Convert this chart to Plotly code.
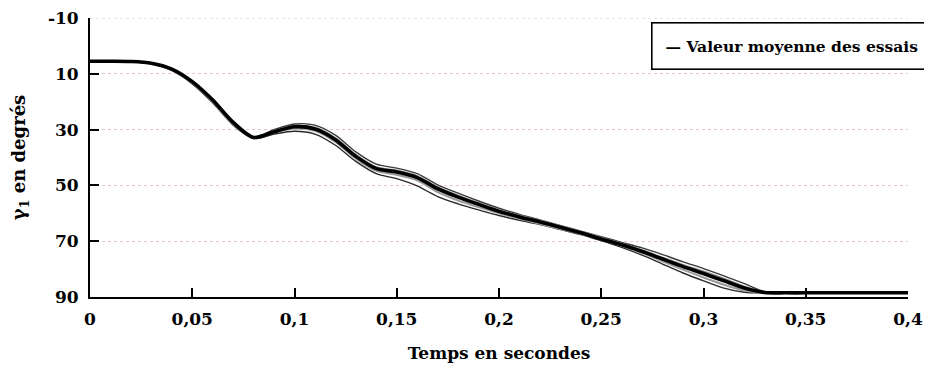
import plotly.graph_objects as go

# Time (s)
temps = [0.00, 0.01, 0.02, 0.03, 0.04, 0.05, 0.06, 0.07, 0.08, 0.09,
         0.10, 0.11, 0.12, 0.13, 0.14, 0.15, 0.16, 0.17, 0.18, 0.19,
         0.20, 0.21, 0.22, 0.23, 0.24, 0.25, 0.26, 0.27, 0.28, 0.29,
         0.30, 0.31, 0.32, 0.33, 0.34, 0.35, 0.36, 0.37, 0.38, 0.39, 0.40]

# Mean value of trials (degrees)
moyenne = [5.5, 5.5, 5.6, 6.2, 8.3, 12.8, 19.4, 27.4, 32.8, 30.8,
           29.0, 29.8, 33.6, 39.6, 44.0, 45.2, 47.2, 51.2, 54.2, 56.8,
           59.3, 61.3, 63.1, 65.0, 67.0, 69.2, 71.3, 73.7, 76.4, 79.1,
           81.6, 84.2, 86.8, 88.4, 88.5, 88.5, 88.5, 88.5, 88.5, 88.5, 88.5]

# Individual trials (degrees)
essai_1 = [5.5, 5.5, 5.6, 6.2, 8.2, 12.6, 19.2, 27.0, 32.6, 30.0,
           28.0, 28.4, 32.0, 38.0, 42.4, 43.8, 45.8, 49.8, 52.8, 55.6,
           58.2, 60.4, 62.4, 64.4, 66.4, 68.4, 70.4, 72.4, 74.8, 77.4,
           79.8, 82.4, 85.2, 88.1, 88.5, 88.5, 88.5, 88.5, 88.5, 88.5, 88.5]
essai_2 = [5.5, 5.5, 5.7, 6.4, 8.8, 13.6, 20.4, 28.4, 33.2, 31.6,
           30.6, 31.6, 35.6, 41.4, 45.8, 47.6, 50.2, 54.0, 56.6, 58.8,
           60.8, 62.5, 64.0, 65.8, 67.6, 69.8, 72.2, 75.0, 78.2, 81.4,
           84.2, 86.8, 88.3, 88.5, 88.5, 88.5, 88.5, 88.5, 88.5, 88.5, 88.5]
essai_3 = [5.5, 5.5, 5.6, 6.3, 8.6, 13.3, 20.0, 28.0, 33.0, 31.0,
           29.6, 30.4, 34.4, 40.4, 44.8, 46.2, 48.2, 52.4, 55.4, 57.8,
           60.0, 62.0, 63.8, 65.6, 67.4, 69.4, 71.6, 74.2, 77.2, 80.2,
           83.0, 85.6, 87.7, 88.5, 88.5, 88.5, 88.5, 88.5, 88.5, 88.5, 88.5]
essai_4 = [5.5, 5.5, 5.6, 6.1, 8.1, 12.5, 19.0, 27.0, 32.6, 30.4,
           28.6, 29.2, 33.0, 39.0, 43.4, 44.6, 46.6, 50.6, 53.6, 56.2,
           58.8, 60.8, 62.6, 64.4, 66.4, 68.6, 70.8, 73.2, 75.8, 78.4,
           80.8, 83.4, 86.2, 88.4, 88.5, 88.5, 88.5, 88.5, 88.5, 88.5, 88.5]

x_tick_vals = [0, 0.05, 0.1, 0.15, 0.2, 0.25, 0.3, 0.35, 0.4]
x_tick_text = ["0", "0,05", "0,1", "0,15", "0,2", "0,25", "0,3", "0,35", "0,4"]
y_tick_vals = [-10, 10, 30, 50, 70, 90]
y_tick_text = ["-10", "10", "30", "50", "70", "90"]

FONT = "DejaVu Serif"
GRID = "#e8c6c8"

fig = go.Figure()

trials = [(essai_1, "#3a3a3a", 1.4), (essai_2, "#2a2a2a", 1.4),
          (essai_3, "#9a9a9a", 2.0), (essai_4, "#8a8a8a", 1.6)]
for i, (vals, col, w) in enumerate(trials):
    fig.add_trace(go.Scatter(
        x=temps, y=vals, mode="lines", name=f"Essai {i+1}",
        line=dict(color=col, width=w, shape="spline", smoothing=0.8),
        showlegend=False, hoverinfo="skip"))

fig.add_trace(go.Scatter(
    x=temps, y=moyenne, mode="lines", name="Valeur moyenne des essais",
    line=dict(color="black", width=3.6, shape="spline", smoothing=0.8),
    showlegend=False))

# top dotted grid line at -10
fig.add_shape(type="line", xref="paper", yref="y", x0=0, x1=1, y0=-10, y1=-10,
              line=dict(color=GRID, width=1, dash="dot"), layer="below")

fig.add_annotation(
    xref="paper", yref="paper", x=1.031, y=0.986, xanchor="right", yanchor="top",
    text="— Valeur moyenne des essais", showarrow=False,
    font=dict(family=FONT, size=15.5, color="black", weight="bold"),
    bordercolor="black", borderwidth=1.6, borderpad=13, bgcolor="white")

fig.update_layout(
    width=932, height=368,
    margin=dict(l=82, r=32, t=10, b=79),
    paper_bgcolor="white", plot_bgcolor="white",
    font=dict(family=FONT, color="black", size=18, weight="bold"),
    showlegend=False,
)

fig.update_xaxes(
    range=[0, 0.4], tickvals=x_tick_vals, ticktext=x_tick_text,
    ticks="inside", ticklen=9, tickwidth=1.5, tickcolor="black",
    showline=True, linecolor="black", linewidth=2,
    showgrid=False, zeroline=False, automargin=False,
    ticklabelstandoff=6, ticklabeloverflow="allow",
    tickfont=dict(family=FONT, size=17, weight="bold"),
    title=dict(text="Temps en secondes", standoff=19,
               font=dict(family=FONT, size=17, weight="bold")),
)

fig.update_yaxes(
    range=[90, -10], tickvals=y_tick_vals, ticktext=y_tick_text,
    ticks="inside", ticklen=9, tickwidth=1.5, tickcolor="black",
    showline=True, linecolor="black", linewidth=2,
    showgrid=True, gridcolor=GRID, griddash="dot", gridwidth=1,
    zeroline=False, automargin=False,
    ticklabelstandoff=6, ticklabeloverflow="allow",
    tickfont=dict(family=FONT, size=17, weight="bold"),
    title=dict(text="γ<sub>1</sub> en degrés", standoff=24,
               font=dict(family=FONT, size=18, weight="bold")),
)

fig.write_html("out.html")
